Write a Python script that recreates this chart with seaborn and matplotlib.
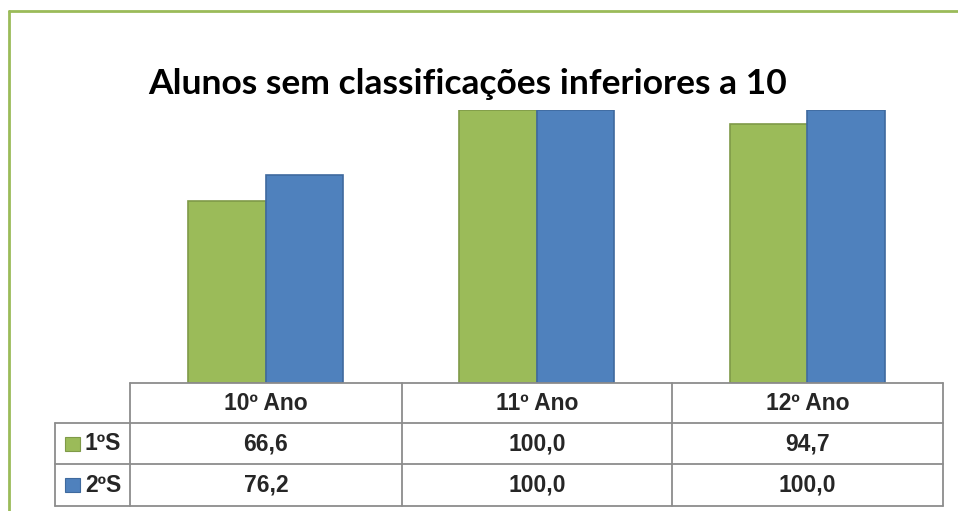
import matplotlib
matplotlib.use("Agg")
import matplotlib.pyplot as plt
from matplotlib.lines import Line2D
from matplotlib.patches import Rectangle
import seaborn as sns
import pandas as pd

categories = ["10º Ano", "11º Ano", "12º Ano"]
series = ["1ºS", "2ºS"]
values_1S = [66.6, 100.0, 94.7]
values_2S = [76.2, 100.0, 100.0]
title = "Alunos sem classificações inferiores a 10"

colors = {"1ºS": "#9BBB59", "2ºS": "#4F81BD"}
edge = {"1ºS": "#7F9A48", "2ºS": "#3F6A9E"}

df = pd.DataFrame({
    "Ano": categories * 2,
    "Semestre": [series[0]] * 3 + [series[1]] * 3,
    "Valor": values_1S + values_2S,
})

sns.set_style("white")
plt.rcParams["font.family"] = ["Liberation Sans", "DejaVu Sans"]

W, H = 958, 511
fig = plt.figure(figsize=(W / 100, H / 100), dpi=100)

def fx(px):
    return px / W

def fy(py):
    return 1 - py / H

# plot area
left, right, top, bottom = 130, 943, 110, 383
ax = fig.add_axes([fx(left), fy(bottom), fx(right - left), fy(top) - fy(bottom)])
sns.barplot(data=df, x="Ano", y="Valor", hue="Semestre", palette=colors,
            width=0.575, ax=ax, legend=False, saturation=1)
for i, p in enumerate(ax.patches):
    s = series[0] if i < 3 else series[1]
    p.set_edgecolor(edge[s])
    p.set_linewidth(1.2)
ax.set_ylim(0, 100)
ax.set_xlim(-0.5, 2.5)
ax.axis("off")

# title
fig.text(fx(148), fy(84), title, fontsize=25.5, fontweight="bold", ha="left", va="center",
         color="black", family=["Lato", "DejaVu Sans"])

# green outer border (top and left visible)
bc = "#9BBB59"
fig.add_artist(Line2D([fx(9), fx(W)], [fy(11), fy(11)], color=bc, lw=2))
fig.add_artist(Line2D([fx(9), fx(9)], [fy(11), fy(H)], color=bc, lw=2))

# data table
gc = "#8C8C8C"
col_x = [55, 130, 402, 672, 943]
row_y = [383, 423, 464, 506]

def hline(x0, x1, y):
    fig.add_artist(Line2D([fx(x0), fx(x1)], [fy(y), fy(y)], color=gc, lw=1.3))

def vline(x, y0, y1):
    fig.add_artist(Line2D([fx(x), fx(x)], [fy(y0), fy(y1)], color=gc, lw=1.3))

hline(col_x[1], col_x[-1], row_y[0])
hline(col_x[0], col_x[-1], row_y[1])
hline(col_x[0], col_x[-1], row_y[2])
hline(col_x[0], col_x[-1], row_y[3])
vline(col_x[0], row_y[1], row_y[3])
for x in col_x[1:]:
    vline(x, row_y[0], row_y[3])

fs = 16.5
for j, cat in enumerate(categories):
    cx = (col_x[j + 1] + col_x[j + 2]) / 2
    fig.text(fx(cx), fy((row_y[0] + row_y[1]) / 2), cat, ha="center", va="center",
             fontsize=fs, fontweight="bold")
for r, (s, vals) in enumerate(zip(series, [values_1S, values_2S])):
    cy = (row_y[r + 1] + row_y[r + 2]) / 2
    fig.add_artist(Rectangle((fx(65), fy(cy + 7)), fx(15), fy(cy - 7) - fy(cy + 7),
                             facecolor=colors[s], edgecolor=edge[s], lw=0.8))
    fig.text(fx(85), fy(cy), s, ha="left", va="center", fontsize=fs, fontweight="bold")
    for j, v in enumerate(vals):
        cx = (col_x[j + 1] + col_x[j + 2]) / 2
        fig.text(fx(cx), fy(cy), f"{v:.1f}".replace(".", ","), ha="center", va="center",
                 fontsize=fs, fontweight="bold")

fig.savefig("out.png", dpi=100)
